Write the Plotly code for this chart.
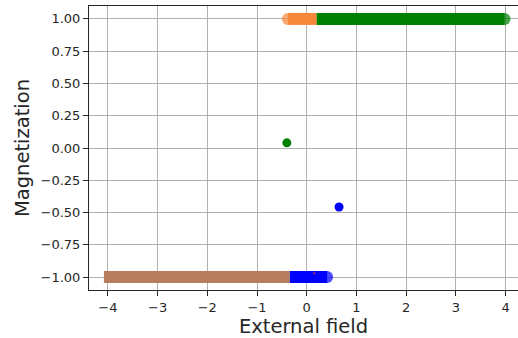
import plotly.graph_objects as go

# Hysteresis branches (external field, magnetization)
green_x = [0.20, 3.98]
green_y = [1.0, 1.0]
green_pt_x = [-0.40]
green_pt_y = [0.04]

orange_x = [-0.38, 0.20]
orange_y = [1.0, 1.0]

brown_x = [-4.08, -0.34]
brown_y = [-1.0, -1.0]

blue_x = [-0.34, 0.41]
blue_y = [-1.0, -1.0]
blue_pt_x = [0.65]
blue_pt_y = [-0.457]

red_pt_x = [0.15]
red_pt_y = [-0.97]

x_ticks = [-4, -3, -2, -1, 0, 1, 2, 3, 4]
x_ticklabels = ["\u22124", "\u22123", "\u22122", "\u22121", "0", "1", "2", "3", "4"]
y_ticks = [-1.0, -0.75, -0.5, -0.25, 0.0, 0.25, 0.5, 0.75, 1.0]
y_ticklabels = ["\u22121.00", "\u22120.75", "\u22120.50", "\u22120.25", "0.00", "0.25", "0.50", "0.75", "1.00"]

C_GREEN = "#008000"
C_ORANGE = "#f5873a"
C_BROWN = "#b67e5e"
C_BLUE = "#0000ff"

fig = go.Figure()

# brown branch (square ends)
fig.add_trace(go.Scatter(x=brown_x, y=brown_y, mode="lines",
                         line=dict(color=C_BROWN, width=12), hoverinfo="skip"))
# blue branch with rounded right end
fig.add_trace(go.Scatter(x=blue_x, y=blue_y, mode="lines+markers",
                         line=dict(color=C_BLUE, width=12),
                         marker=dict(color=C_BLUE, size=[0, 12], line=dict(width=0))))
fig.add_trace(go.Scatter(x=blue_pt_x, y=blue_pt_y, mode="markers",
                         marker=dict(color=C_BLUE, size=9, symbol="circle", line=dict(width=0))))
fig.add_trace(go.Scatter(x=red_pt_x, y=red_pt_y, mode="markers",
                         marker=dict(color="#e03030", size=2, line=dict(width=0))))
# orange branch with rounded left end
fig.add_trace(go.Scatter(x=orange_x, y=orange_y, mode="lines+markers",
                         line=dict(color=C_ORANGE, width=12),
                         marker=dict(color=C_ORANGE, size=[12, 0], line=dict(width=0))))
# green branch with rounded right end
fig.add_trace(go.Scatter(x=green_x, y=green_y, mode="lines+markers",
                         line=dict(color=C_GREEN, width=12),
                         marker=dict(color=C_GREEN, size=[0, 12], line=dict(width=0))))
fig.add_trace(go.Scatter(x=green_pt_x, y=green_pt_y, mode="markers",
                         marker=dict(color=C_GREEN, size=9, line=dict(width=0))))

axis_common = dict(
    showgrid=True, gridcolor="#b0b0b0", gridwidth=1,
    zeroline=False,
    showline=True, linecolor="#262626", linewidth=1,
    ticks="outside", ticklen=5, tickwidth=1, tickcolor="#262626",
    tickfont=dict(family="DejaVu Sans", size=13, color="#262626"),
    layer="above traces",
)

fig.update_layout(
    width=518, height=338,
    margin=dict(l=89, r=0, t=6, b=48, autoexpand=False),
    paper_bgcolor="white", plot_bgcolor="white",
    showlegend=False,
    xaxis=dict(range=[-4.38, 4.25], tickmode="array", tickvals=x_ticks,
               ticktext=x_ticklabels, mirror=True, automargin=False,
               title=dict(text="External field", font=dict(family="DejaVu Sans", size=19.5, color="#262626"),
                          standoff=4),
               **axis_common),
    yaxis=dict(range=[-1.1, 1.1], tickmode="array", tickvals=y_ticks,
               ticktext=y_ticklabels, mirror=False, automargin=False,
               title=dict(text="Magnetization", font=dict(family="DejaVu Sans", size=19.5, color="#262626"),
                          standoff=5),
               **axis_common),
)

fig.write_html("out.html", config={"displayModeBar": False},
               post_script="document.body.style.margin='0';document.body.style.padding='0';")
